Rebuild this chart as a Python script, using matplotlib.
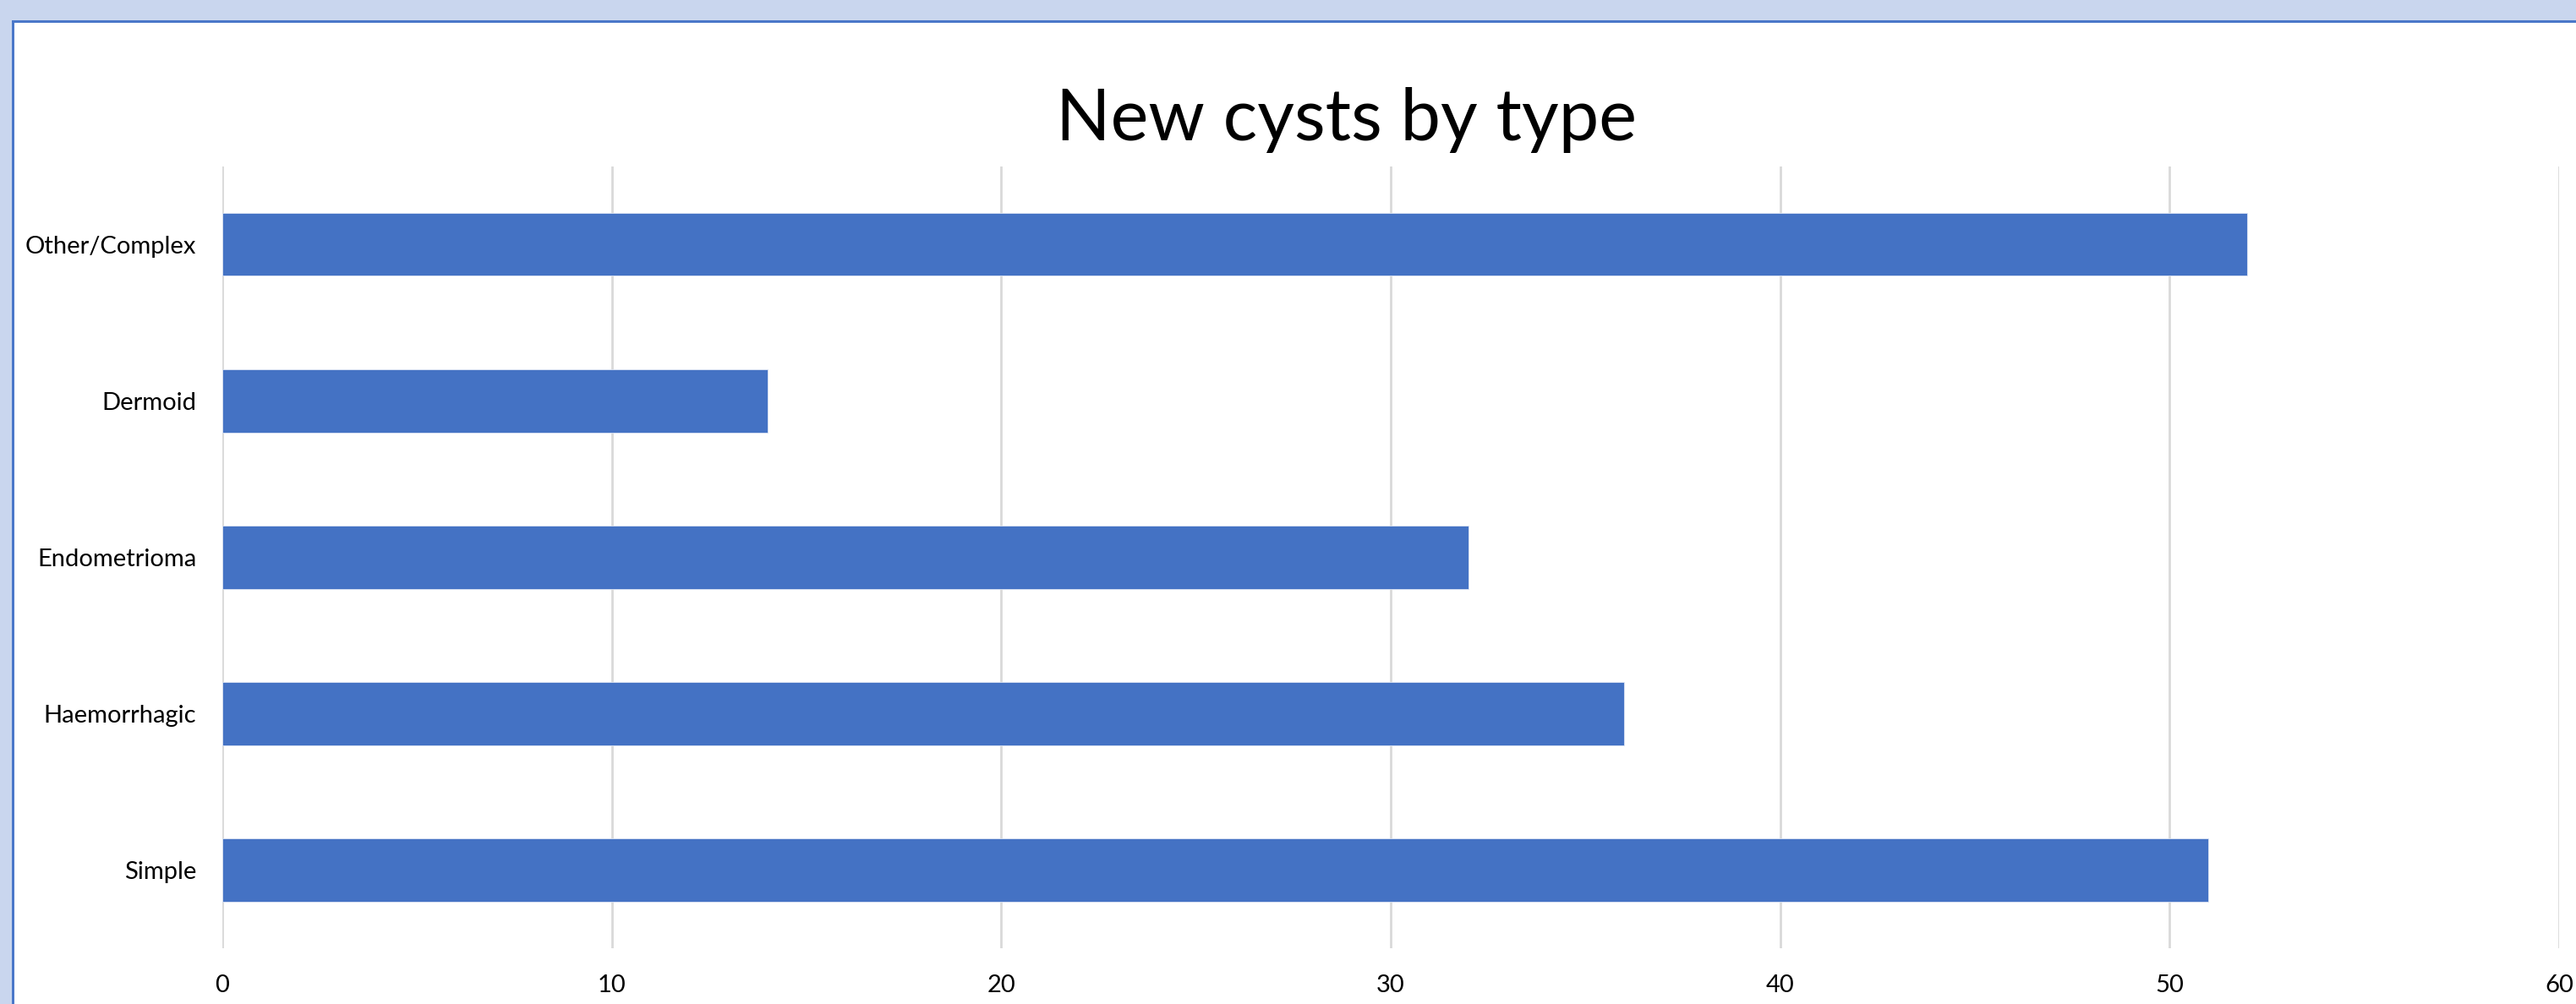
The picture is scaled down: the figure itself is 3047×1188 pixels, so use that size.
import numpy as np
import matplotlib
matplotlib.use("Agg")
import matplotlib.pyplot as plt
from matplotlib.patches import Rectangle

# data (top to bottom)
categories = ['Other/Complex', 'Dermoid', 'Endometrioma', 'Haemorrhagic', 'Simple']
counts = [52, 14, 32, 36, 51]
xticks = [0, 10, 20, 30, 40, 50, 60]

barColor = '#4472C4'
gridColor = '#D9D9D9'
W, H = 3047, 1188

plt.rcParams['font.family'] = ['Lato', 'DejaVu Sans']

fig = plt.figure(figsize=(W/100, H/100), dpi=100)
fig.patch.set_facecolor('white')

# selection strip + border like the Excel frame
fig.add_artist(Rectangle((0, 0), W, H, transform=None, facecolor='#C9D6EE', edgecolor='none', zorder=0))
fig.add_artist(Rectangle((14, 0), W-14, H-24, transform=None, facecolor='#4A77C9', edgecolor='none', zorder=0))
fig.add_artist(Rectangle((17, 0), W-17, H-27, transform=None, facecolor='white', edgecolor='none', zorder=0))

ax = fig.add_axes([263/W, 66/H, (3027-263)/W, (1122-197)/H])
ax.set_facecolor('none')

pos = np.arange(len(categories))[::-1]
ax.barh(pos, counts, height=0.4, color=barColor, edgecolor='#DCE4F3', linewidth=0.6, zorder=3)

ax.set_xlim(0, 60)
ax.set_ylim(-0.5, len(categories)-0.5)
ax.set_xticks(xticks)
ax.set_yticks(pos)
ax.set_yticklabels(categories)
ax.grid(axis='x', color=gridColor, linewidth=2, zorder=0)
ax.set_axisbelow(True)
for s in ax.spines.values():
    s.set_visible(False)
ax.tick_params(axis='both', length=0, labelsize=21, colors='black')
ax.tick_params(axis='y', pad=22)
ax.tick_params(axis='x', pad=22)

fig.text(1592/W, 1-166/H, 'New cysts by type', ha='center', va='baseline', fontsize=61, color='black')

fig.savefig('out.png', dpi=100)
